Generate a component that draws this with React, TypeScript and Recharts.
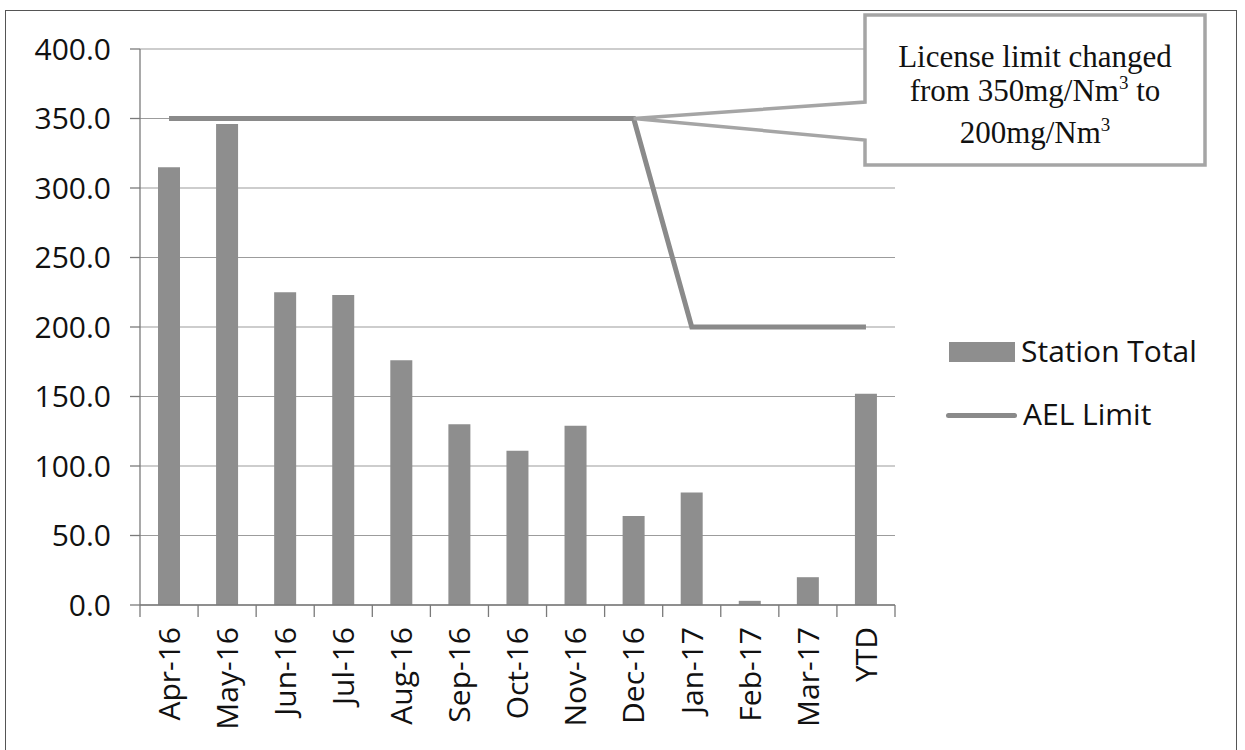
import React from 'react';
import {
  ComposedChart,
  Bar,
  Line,
  XAxis,
  YAxis,
  CartesianGrid,
  Legend,
  ReferenceDot,
} from 'recharts';

const categories = [
  'Apr-16', 'May-16', 'Jun-16', 'Jul-16', 'Aug-16', 'Sep-16', 'Oct-16',
  'Nov-16', 'Dec-16', 'Jan-17', 'Feb-17', 'Mar-17', 'YTD',
];
const stationTotal = [315, 346, 225, 223, 176, 130, 111, 129, 64, 81, 3, 20, 152];
const aelLimit = [350, 350, 350, 350, 350, 350, 350, 350, 350, 200, 200, 200, 200];
const yTicks = [0, 50, 100, 150, 200, 250, 300, 350, 400];
const calloutCategory = 'Dec-16';
const calloutValue = 350;

const data = categories.map((c, i) => ({
  month: c,
  station: stationTotal[i],
  ael: aelLimit[i],
}));

const SANS = '"Open Sans", "Noto Sans", sans-serif';
const SERIF = '"Liberation Serif", "DejaVu Serif", serif';
const BAR_GREY = '#8e8e8e';
const LINE_GREY = '#8a8a8a';
const AXIS_GREY = '#7a7a7a';

const XTick = (props: any) => {
  const { x, y, payload, index, visibleTicksCount } = props;
  const half = payload && payload.offset ? payload.offset : 755 / 13 / 2;
  const count = visibleTicksCount || categories.length;
  return (
    <g>
      <line x1={x - half} y1={y} x2={x - half} y2={y + 12} stroke={AXIS_GREY} strokeWidth={1.3} />
      {index === count - 1 && (
        <line x1={x + half} y1={y} x2={x + half} y2={y + 12} stroke={AXIS_GREY} strokeWidth={1.3} />
      )}
      <text
        transform={`translate(${x},${y + 22}) rotate(-90)`}
        textAnchor="end"
        dy="0.36em"
        fontSize={30}
        fontFamily={SANS}
        fill="#111"
      >
        {payload.value}
      </text>
    </g>
  );
};

const LegendContent = (props: any) => {
  const raw = props.payload || [];
  const items = [...raw].sort((a: any, b: any) => (a.type === 'line' ? 1 : 0) - (b.type === 'line' ? 1 : 0));
  return (
    <div style={{ position: 'relative', width: 300, height: 120 }}>
      {items.map((it: any, i: number) => {
        const center = i === 0 ? 25 : 88;
        const isLine = it.type === 'line';
        return (
          <div key={i}>
            {isLine ? (
              <div
                style={{
                  position: 'absolute',
                  left: 0,
                  top: center - 2.5,
                  width: 71,
                  height: 5,
                  borderRadius: 3,
                  background: LINE_GREY,
                }}
              />
            ) : (
              <div
                style={{
                  position: 'absolute',
                  left: 3,
                  top: center - 10,
                  width: 66,
                  height: 20,
                  background: BAR_GREY,
                }}
              />
            )}
            <div
              style={{
                position: 'absolute',
                left: isLine ? 77 : 75,
                top: center - 22,
                lineHeight: '42px',
                fontSize: 30,
                fontFamily: SANS,
                color: '#111',
                whiteSpace: 'nowrap',
              }}
            >
              {it.value}
            </div>
          </div>
        );
      })}
    </div>
  );
};

const Callout = (props: any) => {
  const { cx, cy } = props;
  const bx1 = 865;
  const bx2 = 1205;
  const by1 = 15;
  const by2 = 165;
  const w1 = 102;
  const w2 = 140;
  const d = `M${cx},${cy} L${bx1},${w1} L${bx1},${by1} L${bx2},${by1} L${bx2},${by2} L${bx1},${by2} L${bx1},${w2} Z`;
  const tx = (bx1 + bx2) / 2;
  return (
    <g>
      <path d={d} fill="#fff" stroke="#a5a5a5" strokeWidth={3.5} />
      <text x={tx} y={67} textAnchor="middle" fontSize={31} fontFamily={SERIF} fill="#111">
        License limit changed
      </text>
      <text x={tx} y={101} textAnchor="middle" fontSize={31} fontFamily={SERIF} fill="#111">
        <tspan>from 350mg/Nm</tspan>
        <tspan fontSize={19} dy={-12}>3</tspan>
        <tspan dy={12}> to</tspan>
      </text>
      <text x={tx} y={143} textAnchor="middle" fontSize={31} fontFamily={SERIF} fill="#111">
        <tspan>200mg/Nm</tspan>
        <tspan fontSize={19} dy={-12}>3</tspan>
      </text>
    </g>
  );
};

export default function App() {
  return (
    <div style={{ position: 'absolute', left: 0, top: 0, width: 1245, height: 750, background: '#fff', overflow: 'hidden' }}>
      <div
        style={{
          position: 'absolute',
          left: 5,
          top: 10,
          width: 1232,
          height: 760,
          border: '1.5px solid #555',
          boxSizing: 'border-box',
        }}
      />
      <div style={{ position: 'absolute', left: 0, top: 0 }}>
        <ComposedChart
          width={1245}
          height={750}
          data={data}
          margin={{ top: 49, right: 350, left: 0, bottom: 0 }}
          barCategoryGap={0}
        >
          <CartesianGrid vertical={false} stroke="#9c9c9c" strokeWidth={1.2} />
          <XAxis
            dataKey="month"
            interval={0}
            tickSize={0}
            tickMargin={0}
            height={145}
            tickLine={false}
            axisLine={{ stroke: AXIS_GREY, strokeWidth: 1.3 }}
            tick={<XTick />}
          />
          <YAxis
            domain={[0, 400]}
            ticks={yTicks}
            interval={0}
            width={140}
            tickSize={10}
            tickMargin={19}
            tickFormatter={(v: number) => v.toFixed(1)}
            tick={{ fontSize: 30, fill: '#111', fontFamily: SANS }}
            axisLine={{ stroke: AXIS_GREY, strokeWidth: 1.3 }}
            tickLine={{ stroke: AXIS_GREY, strokeWidth: 1.3 }}
          />
          <Bar
            dataKey="station"
            name="Station Total"
            fill={BAR_GREY}
            barSize={22}
            isAnimationActive={false}
            legendType="rect"
          />
          <Line
            dataKey="ael"
            name="AEL Limit"
            type="linear"
            stroke={LINE_GREY}
            strokeWidth={5}
            dot={false}
            activeDot={false}
            isAnimationActive={false}
            legendType="line"
          />
          <ReferenceDot
            x={calloutCategory}
            y={calloutValue}
            r={0}
            ifOverflow="visible"
            shape={(p: any) => <Callout cx={p.cx} cy={p.cy} />}
          />
          <Legend
            layout="horizontal"
            verticalAlign="middle"
            align="center"
            content={<LegendContent />}
            wrapperStyle={{ position: 'absolute', left: 946, top: 327, width: 300, height: 120 }}
          />
        </ComposedChart>
      </div>
    </div>
  );
}
